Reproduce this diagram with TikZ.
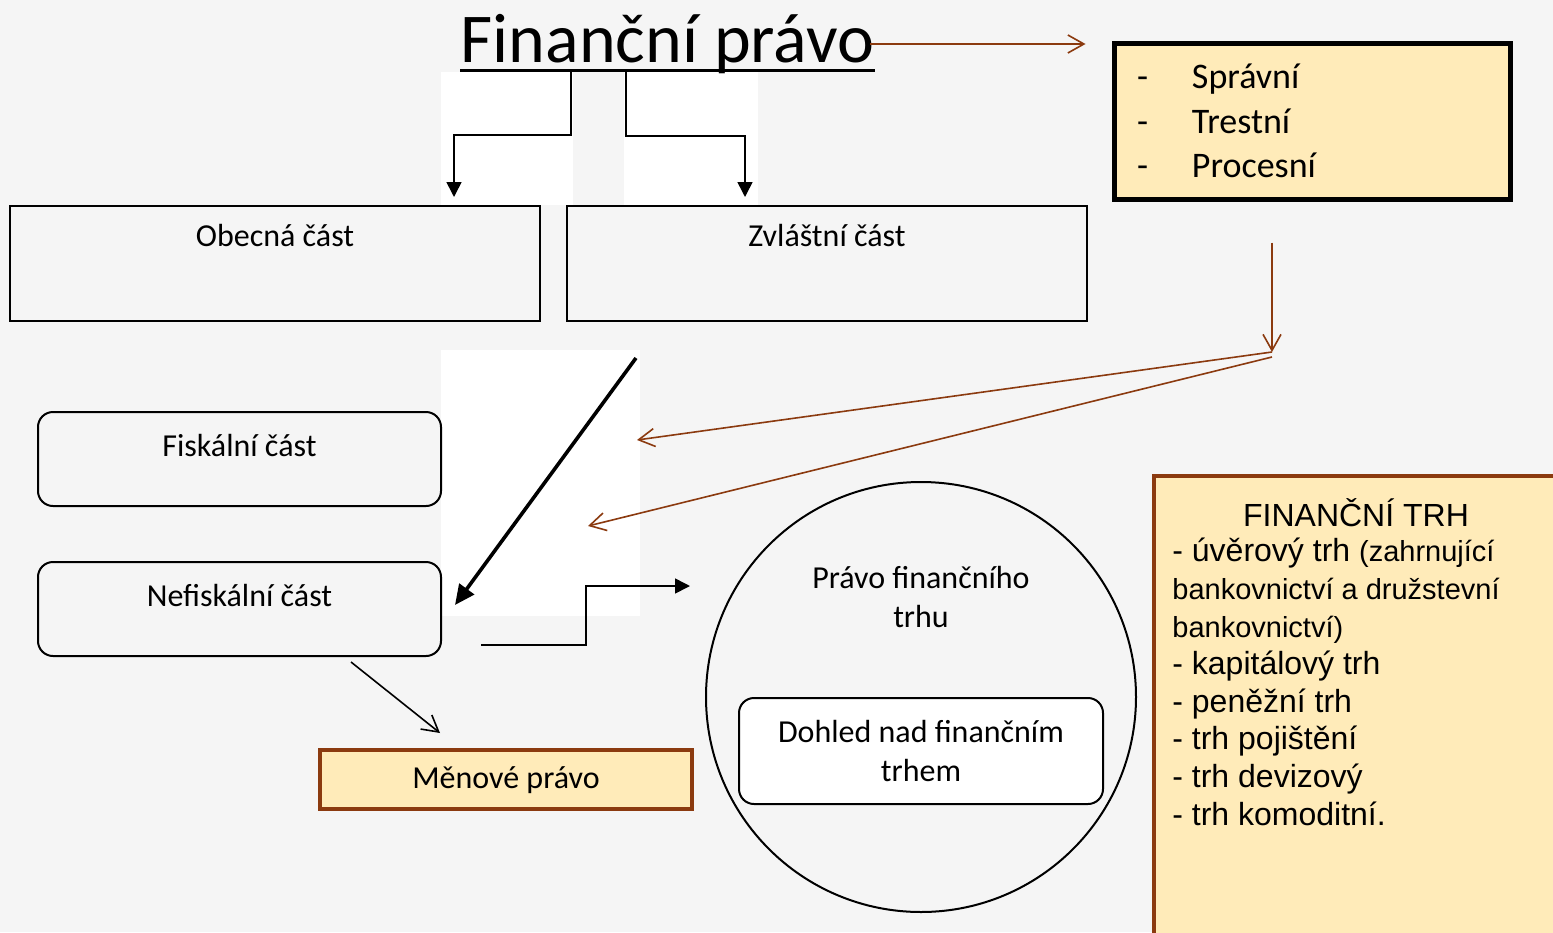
\documentclass[tikz,border=0pt]{standalone}
\usepackage{fontspec}
\setmainfont{Carlito}
\newfontfamily\arialfont{Liberation Sans}
\usetikzlibrary{arrows.meta,positioning}
\definecolor{pozadi}{HTML}{F5F5F5}
\definecolor{hneda}{HTML}{8B3A0F}
\definecolor{krem}{HTML}{FFEBB9}

\tikzset{
  box/.style={draw, line width=1pt, minimum height=57.5pt},
  roundbox/.style={draw, line width=1pt, rounded corners=7.5pt, minimum width=201.5pt, minimum height=47pt},
  yellowbox/.style={draw=hneda, fill=krem, line width=2pt},
  blk/.style={draw, line width=0.8pt, -{Triangle[length=7.5pt,width=7.5pt]}},
  brn/.style={draw=hneda, line width=0.8pt, -{Straight Barb[length=8pt,width=9pt]}},
}
\newcommand{\mensi}{\fontsize{14.5}{18.8}\selectfont}

\begin{document}
\begin{tikzpicture}[x=0.5pt, y=-0.5pt, every node/.append style={font=\fontsize{16}{19.5}\selectfont}]
  % pozadi
  \fill[pozadi] (0,0) rectangle (1553,932);
  \useasboundingbox (0,0) rectangle (1553,932);
  \fill[white] (441,72) rectangle (573,205);
  \fill[white] (624,72) rectangle (758,205);
  \fill[white] (441,350) rectangle (640,616);

  % nadpis
  \node (title) [anchor=base, inner sep=0, font=\fontsize{35}{40}\selectfont] at (667.5,62) {Finanční právo};
  \draw[line width=1.5pt] ([yshift=-4pt]title.base west) -- ([yshift=-4pt]title.base east);

  \node (obecna) [box, minimum width=265pt, label={[anchor=base,yshift=-20.5pt]north:Obecná část}] at (275,263.5) {};
  \node (zvlastni) [box, minimum width=260pt, label={[anchor=base,yshift=-20.5pt]north:Zvláštní část}] at (827,263.5) {};

  \node (druhy) [yellowbox, draw=black, line width=2.5pt, text width=175pt, inner xsep=11.5pt, minimum height=78pt, align=left, font=\fontsize{18}{22.25}\selectfont] at (1312,121)
    {\makebox[27.5pt][l]{-}Správní\\ \makebox[27.5pt][l]{-}Trestní\\ \makebox[27.5pt][l]{-}Procesní};

  \node (fiskalni) [roundbox, label={[anchor=base,yshift=-22.5pt]north:Fiskální část}] at (239.5,459) {};
  \node (nefiskalni) [roundbox, label={[anchor=base,yshift=-22.5pt]north:Nefiskální část}] at (239.5,609) {};
  \node (menove) [yellowbox, minimum width=186pt, minimum height=29.5pt, text depth=2pt] at (506,779.5) {Měnové právo};

  \node (trh) [draw, circle, line width=1pt, minimum size=215pt] at (921,697) {};
  \node (pravotrhu) [align=center] at (921,597) {Právo finančního\\trhu};
  \node (dohled) [roundbox, minimum width=182pt, minimum height=53pt, align=center, fill=white] at (921,751) {Dohled nad finančním\\trhem};

  \node (fintrh) [yellowbox, line width=2.2pt, minimum width=240pt, minimum height=250pt, anchor=north west] at (1152,474) {};
  \node (fintrhnadpis) [font=\arialfont\fontsize{16}{18.8}\selectfont] at (1356,513) {FINANČNÍ TRH};
  \node (seznam) [anchor=north west, inner sep=0, align=left, font=\arialfont\fontsize{16}{18.8}\selectfont] at (1172,538)
    {- úvěrový trh {\mensi(zahrnující}\\{\mensi bankovnictví a družstevní}\\{\mensi bankovnictví)}\\- kapitálový trh\\- peněžní trh\\- trh pojištění\\- trh devizový\\- trh komoditní.};

  % sipky
  \coordinate (k1) at (571,72);
  \coordinate (k2) at (454,135);
  \coordinate (k3) at (626,72);
  \coordinate (k4) at (745,136);
  \draw[blk, shorten >=4pt] (k1) |- (k2) -- (k2 |- obecna.north);
  \draw[blk, shorten >=4pt] (k3) |- (k4) -- (k4 |- zvlastni.north);

  \coordinate (b1) at (870,44);
  \draw[brn, shorten >=13pt] (b1) -- (b1 -| druhy.west);

  \coordinate (c1) at (1272,352);
  \coordinate (c4) at (1272,357);
  \coordinate (c2) at (637,440);
  \coordinate (c3) at (588,526);
  \draw[brn, shorten <=20.5pt] (c1 |- druhy.south) -- (c1);
  \draw[brn] (c1) -- (c2);
  \draw[brn] (c4) -- (c3);

  \coordinate (d1) at (636,358);
  \coordinate (d2) at (455,605);
  \draw[line width=1.8pt, -{Triangle[length=10pt,width=9pt]}] (d1) -- (d2);

  \coordinate (e1) at (481,645);
  \coordinate (e2) at (690,586);
  \draw[blk] (e1) -- ++(105,0) |- (e2);

  \coordinate (f1) at (351,662);
  \coordinate (f2) at (440,733);
  \draw[line width=0.8pt, -{Straight Barb[length=8pt,width=9pt]}] (f1) -- (f2);
\end{tikzpicture}
\end{document}
